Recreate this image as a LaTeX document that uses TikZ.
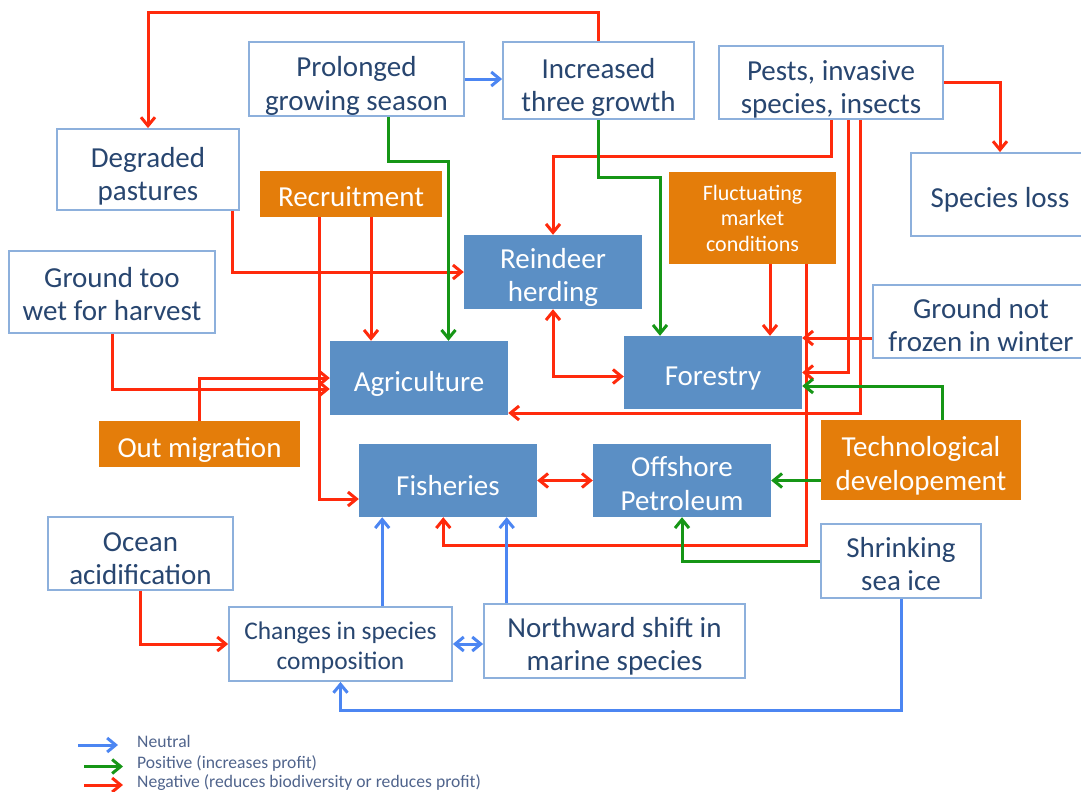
\documentclass[tikz,border=0pt]{standalone}
\usepackage{fontspec}
\setmainfont{Carlito}
\usetikzlibrary{arrows.meta}
\definecolor{boxline}{RGB}{141,176,220}
\definecolor{txt}{RGB}{40,70,112}
\definecolor{bfill}{RGB}{91,143,197}
\definecolor{ofill}{RGB}{228,125,10}
\definecolor{negc}{RGB}{255,42,12}
\definecolor{posc}{RGB}{22,150,22}
\definecolor{neuc}{RGB}{76,134,242}
\definecolor{legtxt}{RGB}{80,100,140}
\newcommand\lowtxt[1][1.17em]{\rule{0pt}{#1}}
\begin{document}
\begin{tikzpicture}[x=1pt,y=-1pt,
  >={Straight Barb[length=8.5pt,width=14pt]},
  sz/.style 2 args={minimum width=#1pt,minimum height=#2pt},
  basebox/.style={inner sep=0pt,align=center,font=\fontsize{29}{33.5}\selectfont},
  wbox/.style={basebox,draw=boxline,line width=1.8pt,fill=white,text=txt},
  bbox/.style={basebox,fill=bfill,text=white},
  obox/.style={basebox,fill=ofill,text=white},
  conn/.style={line width=3pt,->},
  negline/.style={conn,draw=negc},
  posline/.style={conn,draw=posc},
  neuline/.style={conn,draw=neuc},
  legtext/.style={anchor=west,inner sep=0pt,text=legtxt,font=\fontsize{17.6}{20}\selectfont}]
\useasboundingbox (0,0) rectangle (1081,792);
\clip (0,0) rectangle (1081,792);

% nodes
\node[wbox,sz={215}{74}] (prol) at (356.5,79) {\lowtxt Prolonged\\growing season};
\node[wbox,sz={191}{77}] (incr) at (598.5,80.5) {\lowtxt Increased\\three growth};
\node[wbox,sz={224}{73}] (pests) at (831,82.5) {\lowtxt Pests, invasive\\species, insects};
\node[wbox,sz={182}{81}] (degr) at (148,169.5) {\lowtxt Degraded\\pastures};
\node[wbox,sz={178}{83}] (loss) at (1000,194.5) {\lowtxt[1.07em]Species loss};
\node[obox,sz={182}{46}] (recr) at (351,194) {\lowtxt[0.85em]Recruitment};
\node[obox,sz={167}{92},font=\fontsize{22}{25.5}\selectfont] (fluct) at (752.5,218) {Fluctuating\\market\\conditions};
\node[bbox,sz={178}{74}] (rein) at (553,272) {\lowtxt[1.08em]Reindeer\\herding};
\node[wbox,sz={206}{82}] (wet) at (112,292) {\lowtxt[0.83em]Ground too\\wet for harvest};
\node[wbox,sz={216}{73}] (frozen) at (981,321.5) {\lowtxt[0.93em]Ground not\\frozen in winter};
\node[bbox,sz={178}{74}] (agri) at (419,378) {\lowtxt[1.07em]Agriculture};
\node[bbox,sz={178}{73}] (forest) at (713,372.5) {\lowtxt[1.07em]Forestry};
\node[obox,sz={201}{46}] (outm) at (199.5,444) {\lowtxt[1.07em]Out migration};
\node[obox,sz={200}{80}] (tech) at (921,460) {\lowtxt[1.08em]Technological\\developement};
\node[bbox,sz={178}{73}] (fish) at (448,480.5) {\lowtxt[1.07em]Fisheries};
\node[bbox,sz={178}{73}] (off) at (682,480.5) {\lowtxt[0.9em]Offshore\\Petroleum};
\node[wbox,sz={185}{73}] (ocean) at (140.5,553.5) {\lowtxt[1.0em]Ocean\\acidification};
\node[wbox,sz={160}{74}] (shrink) at (901,561) {\lowtxt[0.9em]Shrinking\\sea ice};
\node[wbox,sz={223}{74},font=\fontsize{25.4}{29.5}\selectfont] (changes) at (340.5,644) {\lowtxt[1.0em]Changes in species\\composition};
\node[wbox,sz={261}{74}] (north) at (614.5,641) {\lowtxt[1.07em]Northward shift in\\marine species};

% helper coordinates
\coordinate (p2) at ([xshift=17.5pt]pests.south);
\coordinate (p3) at ([xshift=29pt]pests.south);
\coordinate (r2) at ([xshift=20pt]recr.south);
\coordinate (f1) at ([xshift=17.5pt]fluct.south);
\coordinate (nf) at ([yshift=-16.5pt]frozen.west);
\coordinate (t2) at ([yshift=-20.5pt]tech.west);
\coordinate (c1) at ([xshift=41.7pt]changes.north);
\coordinate (n1) at ([xshift=-107.8pt]north.north);

% negative (red)
\draw[negline] (incr.north) -- ++(0,-29) -| (degr.north);
\draw[negline] (pests.east) -| (loss.north);
\draw[negline] (pests.south) -- ++(0,37) -| (rein.north);
\draw[negline] (p2) |- (forest.east);
\draw[negline] (p3) |- ([yshift=-35pt]agri.east);
\draw[negline] ([xshift=84pt]degr.south) |- (rein.west);
\draw[negline] ([xshift=-32pt]recr.south) |- ([yshift=-18.5pt]fish.west);
\draw[negline] (r2) -- (r2 |- agri.north);
\draw[negline] (wet.south) |- ([yshift=-11pt]agri.west);
\draw[negline] (outm.north) |- (agri.west);
\draw[negline] (f1) -- (f1 |- forest.north);
\draw[negline] ([xshift=53.5pt]fluct.south) -- ++(0,281) -| ([xshift=-4.7pt]fish.south);
\draw[negline] (nf) -- (nf -| forest.east);
\draw[negline,<->] (rein.south) |- ([yshift=-4pt]forest.west);
\draw[negline,<->] (fish.east) -- (off.west);
\draw[negline] (ocean.south) |- (changes.west);

% positive (green)
\draw[posline] ([xshift=31.5pt]prol.south) -- ++(0,44.7) -| ([xshift=29.5pt]agri.north);
\draw[posline] (incr.south) -- ++(0,58) -| ([xshift=-53pt]forest.north);
\draw[posline] ([xshift=21pt]tech.north) |- ([yshift=-13.5pt]forest.east);
\draw[posline] (t2) -- (t2 -| off.east);
\draw[posline] (shrink.west) -| (off.south);

% neutral (blue)
\draw[neuline] (prol.east) -- (prol.east -| incr.west);
\draw[neuline] (c1) -- (c1 |- fish.south);
\draw[neuline] (n1) -- (n1 |- fish.south);
\draw[neuline,<->] (changes.east) -- (changes.east -| north.west);
\draw[neuline] (shrink.south) -- ++(0,112) -| (changes.south);

% legend
\node[legtext] (l1) at (137,741.5) {Neutral};
\node[legtext] (l2) at (137,763) {Positive (increases profit)};
\node[legtext] (l3) at (137,783) {Negative (reduces biodiversity or reduces profit)};
\coordinate (la) at (78,745);
\coordinate (lb) at (84,766.5);
\coordinate (lc) at (84,785);
\draw[neuline] (la) -- ++(40,0);
\draw[posline] (lb) -- ++(39,0);
\draw[negline] (lc) -- ++(39,0);
\end{tikzpicture}
\end{document}
